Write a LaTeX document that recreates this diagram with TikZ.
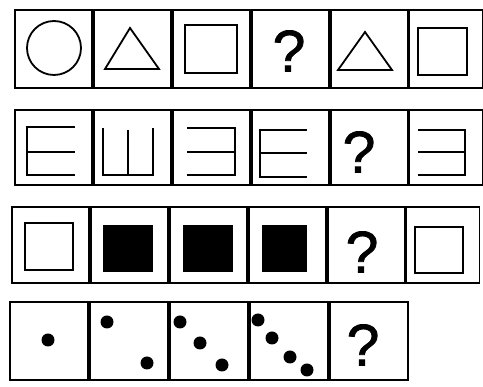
\documentclass[tikz,border=0pt]{standalone}
\usepackage{fontspec}
\setmainfont{Liberation Sans}
\newfontfamily\qfont[FakeBold=1.3]{Liberation Sans}
\usetikzlibrary{positioning}

\begin{document}
\begin{tikzpicture}[
  x=1pt, y=-1pt,
  cell/.style={rectangle, draw, line width=1.9pt, inner sep=0pt, minimum width=77pt, minimum height=77pt},
  figline/.style={line width=1.8pt},
  blob/.style={circle, fill, inner sep=0pt, minimum size=13pt},
  qmark/.style={inner sep=0pt, font=\qfont\fontsize{59}{59}\selectfont}
]
  \useasboundingbox (0,0) rectangle (483,387);

  % row 1: circle, triangle, square
  \node[cell, minimum height=78pt] (a1) at (53.5,49) {};
  \node[cell, minimum height=78pt, right=0pt of a1] (a2) {};
  \node[cell, minimum height=78pt, right=0pt of a2] (a3) {};
  \node[cell, minimum height=78pt, right=0pt of a3] (a4) {};
  \node[cell, minimum height=78pt, right=0pt of a4] (a5) {};
  \node[cell, minimum height=78pt, minimum width=73pt, right=0pt of a5] (a6) {};
  \draw[figline] (54,48) circle (27pt);
  \draw[figline] (130,28) -- (159,69) -- (105,69) -- cycle;
  \draw[figline] (185,25) rectangle (237,73);
  \node[qmark] (q1) at (289,51) {?};
  \draw[figline] (365,32) -- (392,70) -- (338,70) -- cycle;
  \draw[figline] (418,28) rectangle (467,75);

  % row 2: comb shapes
  \node[cell, minimum height=75pt] (b1) at (53.5,147.5) {};
  \node[cell, minimum height=75pt, right=0pt of b1] (b2) {};
  \node[cell, minimum height=75pt, right=0pt of b2] (b3) {};
  \node[cell, minimum height=75pt, right=0pt of b3] (b4) {};
  \node[cell, minimum height=75pt, right=0pt of b4] (b5) {};
  \node[cell, minimum height=75pt, minimum width=73pt, right=0pt of b5] (b6) {};
  \draw[figline] (75,127) -| (27,175) -- (75,175);
  \draw[figline] (27,152) -- (75,152);
  \draw[figline] (103,128) |- (153,175) -- (153,128);
  \draw[figline] (128,130) -- (128,175);
  \draw[figline] (187,128) -| (235,175) -- (187,175);
  \draw[figline] (187,152) -- (235,152);
  \draw[figline] (307,130) -| (260,177) -- (307,177);
  \draw[figline] (260,153) -- (307,153);
  \node[qmark] (q2) at (359,152) {?};
  \draw[figline] (418,130) -| (465,175) -- (418,175);
  \draw[figline, line width=2.4pt] (418,152) -- (465,152);

  % row 3: open and filled squares
  \node[cell, minimum height=76pt] (c1) at (50.5,245) {};
  \node[cell, minimum height=76pt, right=0pt of c1] (c2) {};
  \node[cell, minimum height=76pt, right=0pt of c2] (c3) {};
  \node[cell, minimum height=76pt, right=0pt of c3] (c4) {};
  \node[cell, minimum height=76pt, right=0pt of c4] (c5) {};
  \node[cell, minimum height=76pt, minimum width=73pt, right=0pt of c5] (c6) {};
  \draw[figline] (25,223) rectangle (73,270);
  \fill (103,225) rectangle (153,272);
  \fill (183,225) rectangle (233,272);
  \fill (262,225) rectangle (307,272);
  \node[qmark] (q3) at (362,252) {?};
  \draw[figline] (415,227) rectangle (463,273);

  % row 4: dots
  \node[cell, minimum width=78pt, minimum height=78pt] (d1) at (49,341) {};
  \node[cell, minimum width=78pt, minimum height=78pt, right=0pt of d1] (d2) {};
  \node[cell, minimum width=78pt, minimum height=78pt, right=0pt of d2] (d3) {};
  \node[cell, minimum width=78pt, minimum height=78pt, right=0pt of d3] (d4) {};
  \node[cell, minimum width=78pt, minimum height=78pt, right=0pt of d4] (d5) {};
  \node[blob] (p1) at (48,340) {};
  \node[blob] (p2) at (107,322) {};
  \node[blob] (p3) at (147,363) {};
  \node[blob] (p4) at (180,322) {};
  \node[blob] (p5) at (200,343) {};
  \node[blob] (p6) at (222,365) {};
  \node[blob] (p7) at (258,320) {};
  \node[blob] (p8) at (272,338) {};
  \node[blob] (p9) at (290,357) {};
  \node[blob] (p10) at (307,370) {};
  \node[qmark] (q4) at (363,345) {?};
\end{tikzpicture}
\end{document}
